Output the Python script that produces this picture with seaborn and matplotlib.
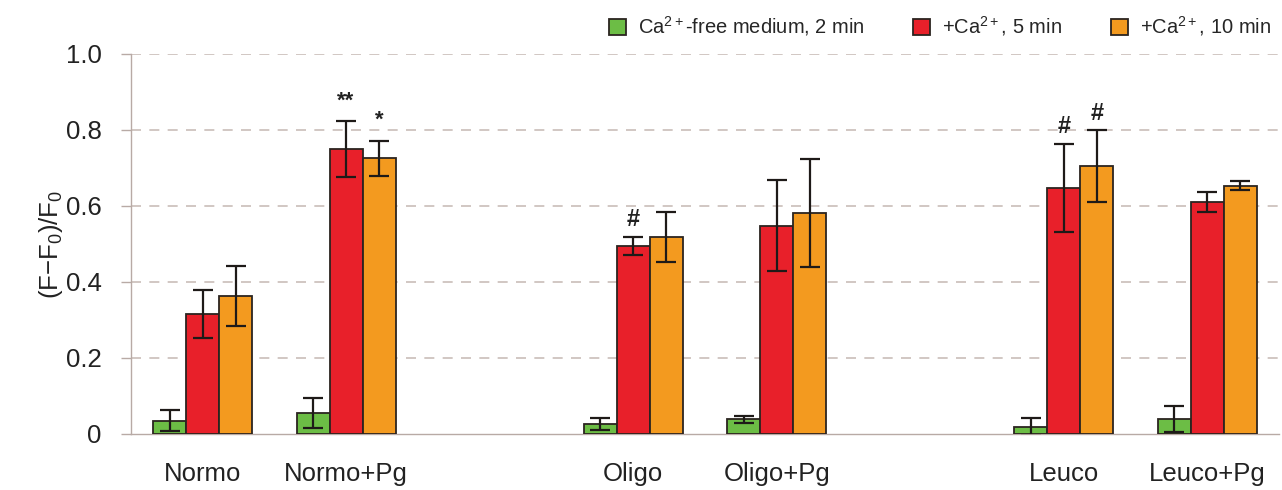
import matplotlib
matplotlib.use("Agg")
import matplotlib.pyplot as plt
import seaborn as sns
import numpy as np
import pandas as pd

# ---- data ----
categories = ["Normo", "Normo+Pg", "", "Oligo", "Oligo+Pg", " ", "Leuco", "Leuco+Pg"]
groups = ["Normo", "Normo+Pg", "Oligo", "Oligo+Pg", "Leuco", "Leuco+Pg"]
series = [r"Ca$^{2+}$-free medium, 2 min", r"+Ca$^{2+}$, 5 min", r"+Ca$^{2+}$, 10 min"]

free_2min = [0.035, 0.055, 0.026, 0.039, 0.018, 0.039]
ca_5min = [0.316, 0.750, 0.495, 0.548, 0.647, 0.611]
ca_10min = [0.363, 0.726, 0.518, 0.582, 0.705, 0.653]

err_2min = [0.028, 0.040, 0.015, 0.009, 0.024, 0.034]
err_5min = [0.063, 0.073, 0.023, 0.120, 0.116, 0.026]
err_10min = [0.080, 0.046, 0.065, 0.142, 0.094, 0.012]

# significance marks: (group, series index, text)
marks = [("Normo+Pg", 1, "**"), ("Normo+Pg", 2, "*"),
         ("Oligo", 1, "#"), ("Leuco", 1, "#"), ("Leuco", 2, "#")]

yticks = [0, 0.2, 0.4, 0.6, 0.8, 1.0]
ytick_labels = ["0", "0.2", "0.4", "0.6", "0.8", "1.0"]

colors = ["#6cbd45", "#e8202a", "#f39a1f"]

# ---- build frame ----
vals = [free_2min, ca_5min, ca_10min]
errs = [err_2min, err_5min, err_10min]
rows = []
for si, s in enumerate(series):
    for gi, g in enumerate(groups):
        rows.append({"group": g, "series": s, "value": vals[si][gi], "err": errs[si][gi]})
df = pd.DataFrame(rows)

sns.set_theme(style="white")
plt.rcParams["font.family"] = ["Liberation Sans", "DejaVu Sans"]
plt.rcParams["mathtext.fontset"] = "custom"
plt.rcParams["mathtext.rm"] = "Liberation Sans"
plt.rcParams["mathtext.it"] = "Liberation Sans"
plt.rcParams["mathtext.default"] = "regular"

fig = plt.figure(figsize=(12.82, 4.90), dpi=100)
fig.patch.set_facecolor("white")
ax = fig.add_axes([0.102, 0.1143, 0.8957, 0.7755])

sns.barplot(data=df, x="group", y="value", hue="series", order=categories,
            hue_order=series, palette=colors, errorbar=None, width=0.69,
            edgecolor="#2b2420", linewidth=1.3, saturation=1, ax=ax, zorder=3)

# error bars and marks from bar patches
edge = "#1e1a18"
for si, s in enumerate(series):
    cont = ax.containers[si]
    for gi, g in enumerate(groups):
        bar = cont.patches[gi] if len(cont.patches) == len(groups) else cont.patches[categories.index(g)]
        xc = bar.get_x() + bar.get_width() / 2
        h = bar.get_height()
        ax.errorbar(xc, h, yerr=errs[si][gi], fmt="none", ecolor=edge,
                    elinewidth=1.6, capsize=7, capthick=1.6, zorder=4)
        for (mg, ms, mt) in marks:
            if mg == g and ms == si:
                if mt == "#":
                    ax.text(xc, h + errs[si][gi] + 0.015, mt, ha="center", va="bottom",
                            fontsize=17, fontweight="bold", color="#222222")
                else:
                    ax.text(xc, h + errs[si][gi] + 0.025, mt, ha="center", va="bottom",
                            fontsize=16, fontweight="bold", color="#222222")

ax.set_ylim(0, 1.0)
ax.set_xlim(-0.5, len(categories) - 0.5)
ax.set_yticks(yticks)
ax.set_yticklabels(ytick_labels, fontsize=18.5, color="#222222")
ax.set_xticks(range(len(categories)))
ax.set_xticklabels(categories, fontsize=18.5, color="#222222")
ax.tick_params(axis="x", which="major", length=0, pad=20)
ax.set_xticks(np.arange(-0.5, len(categories), 1.0), minor=True)
ax.tick_params(axis="x", which="minor", length=7, color="#b8aaa5", width=1, direction="out")
ax.tick_params(axis="y", which="major", length=7, color="#b8aaa5", width=1, direction="out", pad=14, left=True)

for yv in yticks[1:]:
    ax.axhline(yv, color="#c9bdb9", lw=1.2, ls=(0, (6, 5)), zorder=1)

for side in ["top", "right"]:
    ax.spines[side].set_visible(False)
ax.spines["left"].set_color("#b8aaa5")
ax.spines["bottom"].set_color("#b8aaa5")
ax.spines["left"].set_linewidth(1)
ax.spines["bottom"].set_linewidth(1)

ax.set_xlabel("")
ax.set_ylabel(r"(F$-$F$_0$)/F$_0$", fontsize=18.5, color="#222222", labelpad=24)
ax.yaxis.set_label_coords(-0.057, 0.5)

leg = ax.legend(loc="lower right", bbox_to_anchor=(1.0, 1.02), ncol=3, frameon=False,
                fontsize=14.5, handlelength=0.85, handleheight=0.85, columnspacing=2.4,
                handletextpad=0.6, borderaxespad=0)
for p in leg.get_patches():
    p.set_edgecolor("#2b2420")

fig.savefig("out.png", dpi=100, facecolor="white")
